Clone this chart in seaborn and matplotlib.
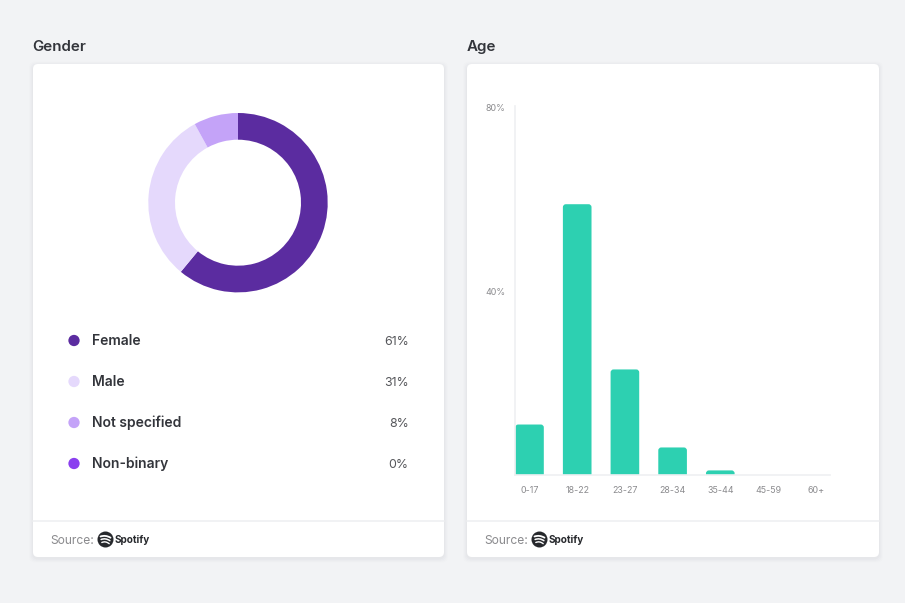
import matplotlib
matplotlib.use("Agg")
import matplotlib.pyplot as plt
import seaborn as sns
import pandas as pd
from matplotlib.patches import FancyBboxPatch, Circle, PathPatch
from matplotlib.path import Path
from matplotlib.transforms import Bbox

W, H = 905, 603
BG = "#f2f3f5"
LINE = "#eff0f2"
DARK = "#33353b"
GREY = "#8b8b8e"

gender_labels = ["Female", "Male", "Not specified", "Non-binary"]
gender_values = [61, 31, 8, 0]
gender_colors = ["#5b2ca0", "#e5d9fc", "#c4a3f8", "#8a3fef"]

age_labels = ["0-17", "18-22", "23-27", "28-34", "35-44", "45-59", "60+"]
age_values = [11, 59, 23, 6, 1, 0, 0]
age_color = "#2dd0b1"

sns.set_theme(style="white")
plt.rcParams["font.family"] = ["Inter", "DejaVu Sans"]


def px_axes(fig, x0, y0, x1, y1, **kw):
    return fig.add_axes([x0 / W, 1 - y1 / H, (x1 - x0) / W, (y1 - y0) / H], **kw)


def draw_card(ax, x0, x1, title):
    y0, y1 = 64, 557
    # soft shadow, a few stacked transparent boxes
    for grow, alpha in [(4, 0.006), (3, 0.01), (2, 0.014), (1, 0.02)]:
        ax.add_patch(FancyBboxPatch((x0 - grow, y0 - grow + 1.5), x1 - x0 + 2 * grow, y1 - y0 + 2 * grow,
                                    boxstyle="round,pad=0,rounding_size=6", fc="#30304a", ec="none", alpha=alpha))
    ax.add_patch(FancyBboxPatch((x0, y0), x1 - x0, y1 - y0, boxstyle="round,pad=0,rounding_size=5",
                                fc="white", ec="none"))
    ax.plot([x0, x1], [520.5, 520.5], color=LINE, lw=1.2)
    ax.text(x0 - 0.5, 51, title, fontsize=10.9, fontweight=600, color=DARK, va="baseline")

    # source line with the Spotify mark
    ax.text(x0 + 17.5, 543.5, "Source:", fontsize=8.7, color=GREY, va="baseline")
    cx, cy = x0 + 72.5, 539.5
    ax.add_patch(Circle((cx, cy), 8, fc="#26282c", ec="none"))
    for dy, half, lw in [(-3, 5, 1.3), (0, 4.4, 1.1), (3, 3.7, 1.0)]:
        curve = Path([(cx - half, cy + dy), (cx, cy + dy - 1.8), (cx + half, cy + dy + 1.2)],
                     [Path.MOVETO, Path.CURVE3, Path.CURVE3])
        ax.add_patch(PathPatch(curve, fc="none", ec="white", lw=lw, capstyle="round"))
    ax.text(cx + 9.5, 543, "Spotify", fontsize=7.2, fontweight="bold", color="#26282c", va="baseline")


fig = plt.figure(figsize=(W / 100, H / 100), dpi=100, facecolor=BG)

# page layer in pixel coordinates
page = px_axes(fig, 0, 0, W, H, zorder=0)
page.set_xlim(0, W)
page.set_ylim(H, 0)
page.axis("off")
draw_card(page, 33, 444, "Gender")
draw_card(page, 467, 879, "Age")

# donut
r_out, r_in = 89.7, 63
box = r_out * 1.25
ax_pie = px_axes(fig, 238 - box, 202.7 - box, 238 + box, 202.7 + box, zorder=1)
ax_pie.pie(gender_values, colors=gender_colors, startangle=90, counterclock=False,
           wedgeprops={"width": 1 - r_in / r_out, "linewidth": 0})
ax_pie.set_xlim(-1.25, 1.25)
ax_pie.set_ylim(-1.25, 1.25)

# legend rows
legend_df = pd.DataFrame({"x": 74, "y": [340.5 + 41 * i for i in range(len(gender_labels))], "label": gender_labels})
sns.scatterplot(data=legend_df, x="x", y="y", hue="label", palette=gender_colors, s=66,
                linewidth=0, legend=False, ax=page, zorder=3)
page.set_xlim(0, W)
page.set_ylim(H, 0)
page.set_xlabel("")
page.set_ylabel("")
for y, name, val in zip(legend_df["y"], gender_labels, gender_values):
    page.text(92, y + 4.5, name, fontsize=10, fontweight=600, color=DARK, va="baseline")
    page.text(408.5, y + 4.5, f"{val}%", fontsize=8.9, color="#55565a", va="baseline", ha="right")

# age bars
step = 47.7
ax_bar = px_axes(fig, 529.5 - step / 2, 106, 529.5 + 6.5 * step, 475, zorder=1)
ax_bar.patch.set_alpha(0)
age_df = pd.DataFrame({"age": age_labels, "share": age_values})
sns.barplot(data=age_df, x="age", y="share", color=age_color, saturation=1, width=0.6, ax=ax_bar, zorder=3)
ax_bar.set_xlim(-0.5, 6.5)
ax_bar.set_ylim(0, 80.4)
ax_bar.set_xlabel("")
ax_bar.set_ylabel("")
ax_bar.set_yticks([40, 80], ["40%", "80%"])
ax_bar.tick_params(axis="both", length=0, labelsize=6.4, labelcolor=GREY)
ax_bar.tick_params(axis="x", pad=8)
ax_bar.tick_params(axis="y", pad=7)
sns.despine(ax=ax_bar)
ax_bar.spines["left"].set_position(("data", -0.3))
ax_bar.spines["left"].set_color(LINE)
ax_bar.spines["left"].set_linewidth(1.2)
ax_bar.spines["bottom"].set_color(LINE)
ax_bar.spines["bottom"].set_linewidth(1.2)
ax_bar.spines["bottom"].set_bounds(-0.3, 6.3)

# round the top corners of the bars: swap each bar for a rounded box on the page layer
fig.canvas.draw()
to_page = page.transData.inverted()
for bar in list(ax_bar.patches):
    b = bar.get_window_extent()
    bar.set_visible(False)
    if b.height < 0.5:
        continue
    (x0, y0), (x1, y1) = to_page.transform([(b.x0, b.y1), (b.x1, b.y0)])
    # box runs past the baseline, the clip keeps the bottom square
    rounded = FancyBboxPatch((x0, y0), x1 - x0, y1 - y0 + 4, boxstyle="round,pad=0,rounding_size=3",
                             fc=age_color, ec="none", zorder=4)
    page.add_patch(rounded)
    rounded.set_clip_box(page.transData.transform_bbox(Bbox([[x0 - 1, y0 - 1], [x1 + 1, y1]])))

fig.savefig("out.png", dpi=100, facecolor=BG)
